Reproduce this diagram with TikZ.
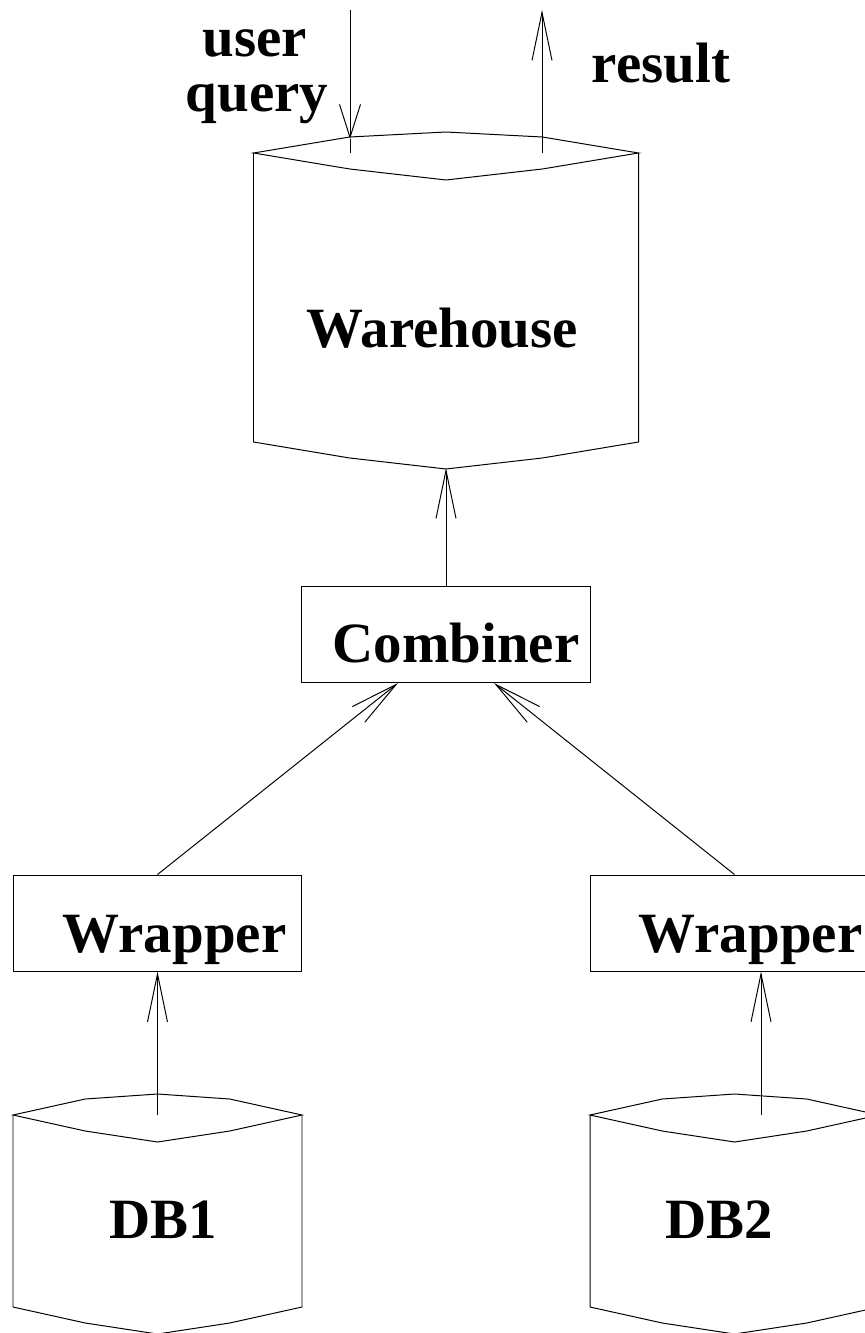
\documentclass[tikz,border=0pt]{standalone}
\usepackage{fontspec}
\setmainfont{Liberation Serif}
\usetikzlibrary{arrows.meta}

\begin{document}
\begin{tikzpicture}[x=0.025cm, y=-0.025cm, line width=0.7pt,
    lbl/.style={anchor=base, inner sep=0pt, font=\fontsize{40.5}{45}\selectfont\bfseries},
    box/.style={draw, minimum width=7.2cm, minimum height=2.4cm, inner sep=0pt},
    flow/.style={-{Straight Barb[length=1.2cm, width=0.5cm]}},
    pics/can/.style 2 args={code={
      % top face, then sides and bottom rim
      \draw (-#1,0) -- (-#1/2,-16) -- (0,-21) -- (#1/2,-16) -- (#1,0)
        -- (#1/2,16) -- (0,27) -- (-#1/2,16) -- cycle;
      \draw (-#1,0) -- (-#1,#2) -- (-#1/2,#2+16) -- (0,#2+27)
        -- (#1/2,#2+16) -- (#1,#2) -- (#1,0);
    }}]
    \useasboundingbox (0,0) rectangle (865,1333);
    \clip (0,0) rectangle (865,1333);

    % stores
    \pic at (446,153) {can={192.5}{289}};
    \node[lbl] (wh) at (442.5,347) {Warehouse};
    \pic at (157.5,1115) {can={144.5}{192}};
    \node[lbl] (db1) at (163.5,1238) {DB1};
    \pic at (734.5,1115) {can={144.5}{192}};
    \node[lbl] (db2) at (719,1238) {DB2};

    % boxes
    \node[box] (comb) at (446,634.5) {};
    \node[lbl] (combtext) at (456,662) {Combiner};
    \node[box] (wrap1) at (157.5,923) {};
    \node[lbl] (wrap1text) at (174.5,952) {Wrapper};
    \node[box] (wrap2) at (734.5,923) {};
    \node[lbl] (wrap2text) at (750.5,952) {Wrapper};

    % labels at the top
    \node[lbl] (user) at (255,57) {user};
    \node[lbl] (query) at (257,112) {query};
    \node[lbl] (res) at (661,83) {result};

    \coordinate (whbot) at (446,468);
    \coordinate (in1) at (398,683);
    \coordinate (in2) at (494,683);
    \coordinate (db1top) at (157.5,1115);
    \coordinate (db2top) at (761,1115);
    \coordinate (qin) at (350,10);
    \coordinate (qtip) at (350,139);
    \coordinate (qend) at (350,153);
    \coordinate (rout) at (542,10);
    \coordinate (rbase) at (542,153);

    % data flow
    \draw[flow] (comb.north) -- (whbot);
    \draw[flow] (wrap1.north) -- (in1);
    \draw[flow] (wrap2.north) -- (in2);
    \draw[flow] (db1top) -- (wrap1.south);
    \draw[flow] (db2top) -- (db2top |- wrap2.south);
    \draw[-{Straight Barb[length=0.825cm, width=0.525cm]}] (qin) -- (qtip);
    \draw (qtip) -- (qend);
    \draw[flow] (rbase) -- (rout);
\end{tikzpicture}
\end{document}
